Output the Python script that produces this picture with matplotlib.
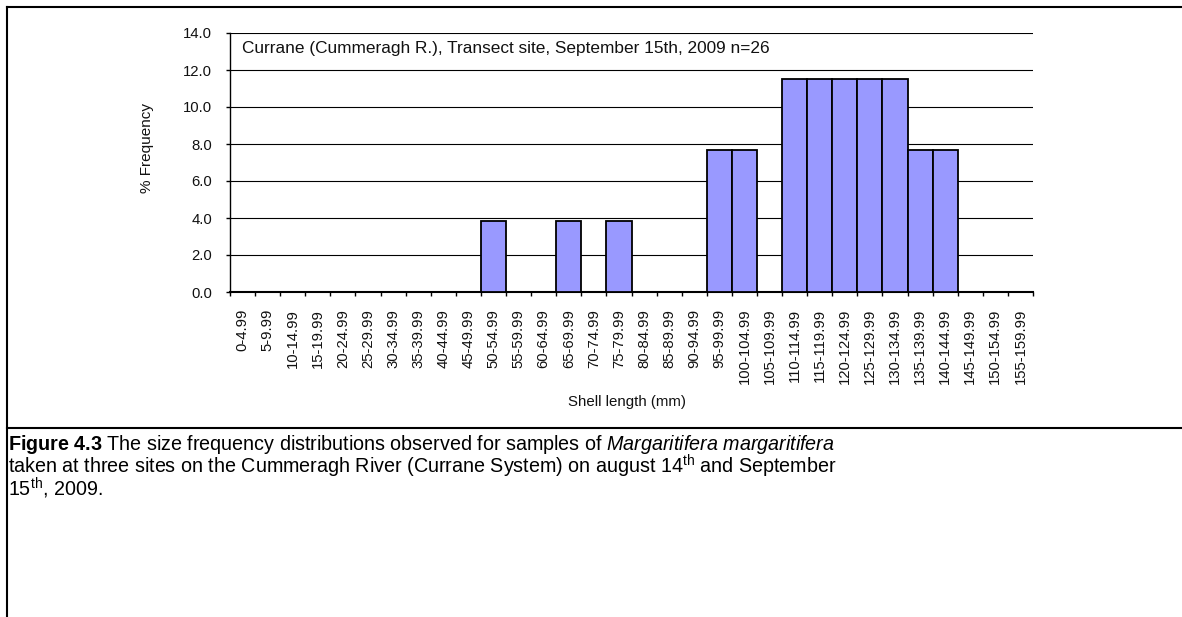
import matplotlib
matplotlib.use("Agg")
import matplotlib.pyplot as plt
from matplotlib.lines import Line2D

plt.rcParams['font.family'] = ['Liberation Sans', 'DejaVu Sans']
plt.rcParams['mathtext.fontset'] = 'custom'
plt.rcParams['mathtext.rm'] = 'Liberation Sans'
plt.rcParams['mathtext.it'] = 'Liberation Sans:italic'
plt.rcParams['mathtext.bf'] = 'Liberation Sans:bold'

categories = ["0-4.99", "5-9.99", "10-14.99", "15-19.99", "20-24.99", "25-29.99",
              "30-34.99", "35-39.99", "40-44.99", "45-49.99", "50-54.99", "55-59.99",
              "60-64.99", "65-69.99", "70-74.99", "75-79.99", "80-84.99", "85-89.99",
              "90-94.99", "95-99.99", "100-104.99", "105-109.99", "110-114.99",
              "115-119.99", "120-124.99", "125-129.99", "130-134.99", "135-139.99",
              "140-144.99", "145-149.99", "150-154.99", "155-159.99"]
frequency = [0, 0, 0, 0, 0, 0, 0, 0, 0, 0, 3.85, 0, 0, 3.85, 0, 3.85, 0, 0, 0,
             7.69, 7.69, 0, 11.54, 11.54, 11.54, 11.54, 11.54, 7.69, 7.69, 0, 0, 0]
yticks = [0, 2, 4, 6, 8, 10, 12, 14]

W, H = 1182, 617
fig = plt.figure(figsize=(W / 100, H / 100), dpi=100)
ax = fig.add_axes([230 / W, 1 - 292 / H, 803 / W, 259 / H])

x = list(range(len(categories)))
ax.bar(x, frequency, width=1.0, color="#9999FF", edgecolor="black", linewidth=1.3, zorder=3)

ax.set_xlim(-0.5, len(categories) - 0.5)
ax.set_ylim(0, 14)
ax.set_yticks(yticks)
ax.set_yticklabels([f"{v:.1f}" for v in yticks], fontsize=10.7, color="#111111")
ax.yaxis.grid(True, color="black", linewidth=0.8, zorder=0)
ax.tick_params(axis="y", direction="out", length=3, width=1, pad=10)

ax.set_xticks([i - 0.5 for i in range(len(categories) + 1)])
ax.set_xticklabels([])
ax.set_xticks(x, minor=True)
ax.set_xticklabels(categories, minor=True, rotation=90, fontsize=10.7, color="#111111")
ax.tick_params(axis="x", which="major", direction="out", length=3, width=1)
ax.tick_params(axis="x", which="minor", length=0, pad=12)

for s in ["top", "right"]:
    ax.spines[s].set_visible(False)
ax.spines["left"].set_linewidth(1)
ax.spines["bottom"].set_linewidth(1.5)

ax.text(242 / W, 1 - 48 / H, "Currane (Cummeragh R.), Transect site, September 15th, 2009 n=26",
        transform=fig.transFigure, fontsize=12.4, va="center", ha="left", color="#111111")
fig.text(147 / W, 1 - 148 / H, "% Frequency", rotation=90, fontsize=11,
         va="center", ha="center", color="#111111")
fig.text(627 / W, 1 - 402 / H, "Shell length (mm)", fontsize=10.8,
         va="center", ha="center", color="#111111")

# table borders
for (x0, y0, x1, y1) in [(7, 7, W, 7), (7, 7, 7, H), (7, 428, W, 428)]:
    fig.add_artist(Line2D([x0 / W, x1 / W], [1 - y0 / H, 1 - y1 / H],
                          transform=fig.transFigure, color="black", linewidth=1.5))

caption = (r"$\mathbf{Figure\ 4.3}$ The size frequency distributions observed for samples of $\mathit{Margaritifera\ margaritifera}$" "\n"
           r"taken at three sites on the Cummeragh River (Currane System) on august 14$^{\mathrm{th}}$ and September" "\n"
           r"15$^{\mathrm{th}}$, 2009.")
fig.text(8 / W, 1 - 433 / H, caption, fontsize=14.2, va="top", ha="left", linespacing=0.83)

fig.savefig("out.png", dpi=100)
